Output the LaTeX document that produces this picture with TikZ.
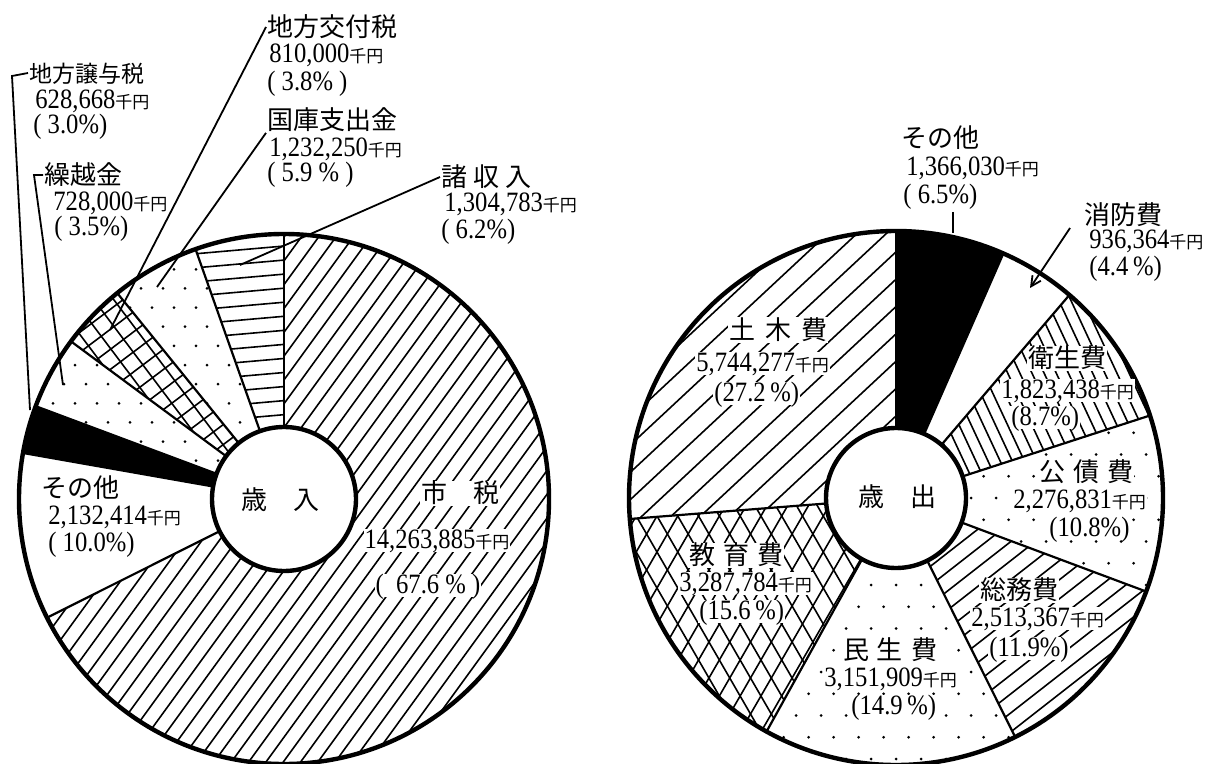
\documentclass[tikz,border=0pt]{standalone}
\usepackage{fontspec}
\setmainfont{Liberation Serif}
\newfontfamily\numf[FakeStretch=0.88]{Liberation Serif}
\newfontfamily\jp{Noto Sans CJK JP}
\usetikzlibrary{arrows.meta}
\newcommand\Wp[4]{(#1:#3) -- (#1:#4) arc[start angle=#1, end angle=#2, radius=#4] -- (#2:#3) arc[start angle=#2, end angle=#1, radius=#3] -- cycle}
\newcommand\hatch[2]{\foreach \k in {-32,...,32}{\draw[hl] (#1+90:\k*#2) ++(#1:340) -- ++(#1:-680);}}
\newcommand\stipple[1]{\foreach \i in {-14,...,14}{\foreach \j in {-16,...,16}{\fill ({\i*#1+0.5*mod(abs(\j),2)*#1},{\j*#1*0.87}) circle[radius=1.5];}}}
\newcommand\senyen{{\jp\fontsize{8.5}{8.5}\selectfont 千円}}
\begin{document}
\begin{tikzpicture}[x=0.5pt,y=-0.5pt,
 hl/.style={line width=0.8pt},
 sb/.style={line width=1.1pt},
 rim/.style={line width=2.2pt},
 ld/.style={line width=0.9pt},
 t/.style={font={\jp\fontsize{13}{13}\selectfont}, inner sep=0.5pt, text height=10.5pt, text depth=1pt, fill=white, anchor=west},
 n/.style={font={\numf\fontsize{14}{14}\selectfont}, inner sep=0.5pt, text height=9.5pt, text depth=1pt, fill=white, anchor=west},
 c/.style={font={\jp\fontsize{13}{13}\selectfont}, inner sep=1pt}]
\useasboundingbox[fill=white] (0,0) rectangle (1208,764);

% ---------------- left pie (revenue) ----------------
\begin{scope}[shift={(284,499)}, y=0.5pt]
 \begin{scope}\clip \Wp{-153.4}{90}{72}{265}; \hatch{54}{14} \end{scope}
 \fill \Wp{159.5}{170}{72}{265};
 \begin{scope}\clip \Wp{143.5}{159.5}{72}{265}; \stipple{22} \end{scope}
 \begin{scope}\clip \Wp{129}{143.5}{72}{265}; \hatch{37}{16} \hatch{127}{16} \end{scope}
 \begin{scope}\clip \Wp{109.5}{129}{72}{265}; \stipple{22} \end{scope}
 \begin{scope}\clip \Wp{90}{109.5}{72}{265}; \hatch{5}{14} \end{scope}
 \foreach \a in {90,109.5,129,143.5,159.5,170,206.6} \draw[sb] (\a:72) -- (\a:265);
 \draw[rim] (0,0) circle[radius=265];
 \draw[rim, fill=white] (0,0) circle[radius=72];
\end{scope}

% ---------------- right pie (expenditure) ----------------
\begin{scope}[shift={(896,498)}, y=0.5pt]
 \fill \Wp{66.3}{90}{70}{267};
 \begin{scope}\clip \Wp{18}{49.5}{70}{267}; \hatch{115}{11} \end{scope}
 \begin{scope}\clip \Wp{-20.5}{18}{70}{267}; \stipple{25} \end{scope}
 \begin{scope}\clip \Wp{-63.5}{-20.5}{70}{267}; \hatch{38}{15} \end{scope}
 \begin{scope}\clip \Wp{-119}{-63.5}{70}{267}; \stipple{25} \end{scope}
 \begin{scope}\clip \Wp{-175.5}{-119}{70}{267}; \hatch{60}{18} \hatch{120}{18} \end{scope}
 \begin{scope}\clip \Wp{90}{184.5}{70}{267}; \hatch{43}{20} \end{scope}
 \foreach \a in {90,66.3,49.5,18,-20.5,-63.5,-119,184.5} \draw[sb] (\a:70) -- (\a:267);
 \draw[rim] (0,0) circle[radius=267];
 \draw[rim, fill=white] (0,0) circle[radius=70];
\end{scope}

% ---------------- left labels ----------------
\node[t] (kofuT) at (266,27) {地方交付税};
\node[n] (kofuV) at (268,54) {810,000\senyen};
\node[n] (kofuP) at (266,82) {(\ 3.8\%\ )};
\node[t] (kokoT) at (266,120) {国庫支出金};
\node[n] (kokoV) at (268,148) {1,232,250\senyen};
\node[n] (kokoP) at (266,173) {(\ 5.9\ \%\ )};
\node[t] (shoT) at (440,177) {諸\hspace{3pt}収\hspace{3pt}入};
\node[n] (shoV) at (443,203) {1,304,783\senyen};
\node[n] (shoP) at (440,230) {(\ 6.2\%)};
\node[t, font={\jp\fontsize{11.5}{11.5}\selectfont}] (joyoT) at (28,73) {地方譲与税};
\node[n] (joyoV) at (34,100) {628,668\senyen};
\node[n] (joyoP) at (32,125) {(\ 3.0\%)};
\node[t] (kuriT) at (43,175) {繰越金};
\node[n] (kuriV) at (52,202) {728,000\senyen};
\node[n] (kuriP) at (53,227) {(\ 3.5\%)};
\node[t] (sonoLT) at (40,488) {その他};
\node[n] (sonoLV) at (47,516) {2,132,414\senyen};
\node[n] (sonoLP) at (47,543) {(\ 10.0\%)};
\node[t, anchor=center] (shizeiT) at (460,493) {市　税};
\node[n, anchor=center] (shizeiV) at (437,540) {14,263,885\senyen};
\node[n, anchor=center] (shizeiP) at (428,585) {(\ \ 67.6\ \%\ )};
\node[c] (sainyu) at (280,500) {歳　入};

\coordinate (kofuE) at (110,330);
\coordinate (kokoE) at (157,287);
\coordinate (shoE) at (240,265);
\coordinate (joyoC) at (12,76);
\coordinate (joyoE) at (30,410);
\coordinate (kuriC) at (34,175);
\coordinate (kuriE) at (63,385);
\draw[ld] (kofuT.west) -- (kofuE);
\draw[ld] (kokoT.south west) -- (kokoE);
\draw[ld] (shoT.west) -- (shoE);
\draw[ld] (joyoT.west) -- (joyoC) -- (joyoE);
\draw[ld] (kuriT.west) -- (kuriC) -- (kuriE);

% ---------------- right labels ----------------
\node[t] (sonoRT) at (900,138) {その他};
\node[n] (sonoRV) at (905,167) {1,366,030\senyen};
\node[n] (sonoRP) at (902,195) {(\ 6.5\%)};
\node[t] (shoboT) at (1083,215) {消防費};
\node[n] (shoboV) at (1088,240) {936,364\senyen};
\node[n] (shoboP) at (1088,267) {(4.4\,\%)};
\node[t, anchor=center] (eiseiT) at (1067,358) {衛生費};
\node[n] (eiseiV) at (1000,390) {1,823,438\senyen};
\node[n] (eiseiP) at (1010,417) {(8.7\%)};
\node[t, anchor=center] (kosaiT) at (1086,472) {公\hspace{4pt}債\hspace{4pt}費};
\node[n] (kosaiV) at (1012,500) {2,276,831\senyen};
\node[n] (kosaiP) at (1048,528) {(10.8\%)};
\node[t, anchor=center] (somuT) at (1019,590) {総務費};
\node[n] (somuV) at (970,618) {2,513,367\senyen};
\node[n] (somuP) at (988,648) {(11.9\%)};
\node[t, anchor=center] (minT) at (890,650) {民\hspace{4pt}生\hspace{4pt}費};
\node[n] (minV) at (823,678) {3,151,909\senyen};
\node[n] (minP) at (850,706) {(14.9\,\%)};
\node[t] (kyoT) at (688,555) {教\hspace{4pt}育\hspace{4pt}費};
\node[n] (kyoV) at (678,583) {3,287,784\senyen};
\node[n] (kyoP) at (698,611) {(15.6\,\%)};
\node[t] (dobokuT) at (728,330) {土\hspace{5pt}木\hspace{5pt}費};
\node[n] (dobokuV) at (695,363) {5,744,277\senyen};
\node[n] (dobokuP) at (713,393) {(27.2\,\%)};
\node[c] (saishutsu) at (897,497) {歳　出};

\coordinate (soRS) at (953,212);
\coordinate (soRE) at (953,233);
\coordinate (shoboS) at (1070,228);
\coordinate (shoboE) at (1030,288);
\draw[ld] (soRS) -- (soRE);
\draw[ld, -{Straight Barb[length=5pt, width=5pt]}] (shoboS) -- (shoboE);
\end{tikzpicture}
\end{document}
